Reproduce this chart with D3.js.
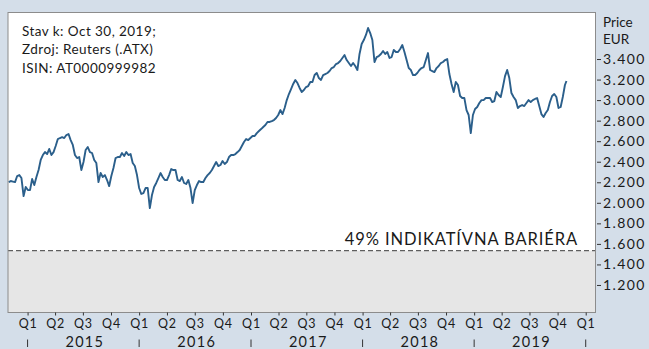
<!DOCTYPE html>
<html>
<head>
<meta charset="utf-8">
<script src="https://cdn.jsdelivr.net/npm/d3@7"></script>
<style>
  html, body { margin: 0; padding: 0; background: #d4dee9; }
  svg { display: block; }
  text { font-family: Lato, "DejaVu Sans", sans-serif; fill: #1a1a1a; }
</style>
</head>
<body>
<svg id="chart" width="649" height="349"></svg>
<script>
// ATX weekly closes (Friday), starting 2014-10-31, plus the as-of close
const weekStart = "2014-10-31";
const weeklyClose = [
  2202, 2212, 2207, 2202, 2261, 2270, 2241, 2066, 2154, 2124,
  2124, 2232, 2173, 2251, 2319, 2417, 2465, 2494, 2475, 2524,
  2465, 2494, 2553, 2621, 2631, 2640, 2631, 2660, 2670, 2611,
  2563, 2465, 2436, 2446, 2319, 2397, 2514, 2543, 2494, 2485,
  2417, 2387, 2202, 2290, 2251, 2270, 2222, 2163, 2261, 2339,
  2436, 2446, 2446, 2485, 2456, 2494, 2465, 2475, 2387, 2358,
  2270, 2144, 2086, 2095, 2144, 2144, 1949, 2076, 2154, 2193,
  2241, 2290, 2251, 2222, 2222, 2270, 2329, 2319, 2319, 2222,
  2212, 2251, 2193, 2183, 2222, 2144, 1998, 2124, 2173, 2212,
  2202, 2202, 2241, 2270, 2290, 2319, 2358, 2397, 2358, 2368,
  2407, 2378, 2397, 2446, 2465, 2465, 2475, 2494, 2514, 2553,
  2592, 2621, 2611, 2631, 2650, 2650, 2679, 2699, 2718, 2738,
  2757, 2787, 2787, 2796, 2806, 2826, 2855, 2903, 2864, 2923,
  3000, 3059, 3108, 3157, 3196, 3166, 3118, 3079, 3098, 3127,
  3137, 3176, 3176, 3244, 3264, 3215, 3196, 3244, 3254, 3264,
  3283, 3312, 3322, 3351, 3361, 3381, 3410, 3439, 3390, 3361,
  3332, 3361, 3332, 3293, 3449, 3546, 3585, 3634, 3702, 3653,
  3585, 3371, 3419, 3429, 3449, 3478, 3449, 3468, 3410, 3419,
  3488, 3468, 3468, 3497, 3536, 3468, 3390, 3312, 3293, 3244,
  3244, 3264, 3293, 3312, 3322, 3390, 3458, 3293, 3283, 3273,
  3312, 3332, 3361, 3371, 3390, 3400, 3254, 3157, 3079, 3176,
  3147, 3040, 3020, 3020, 2903, 2855, 2679, 2855, 2913, 2933,
  2972, 3000, 3000, 3020, 3020, 3020, 2981, 2991, 3079, 3049,
  3030, 3127, 3234, 3293, 3215, 3069, 3030, 3000, 2923, 2942,
  2952, 2942, 2972, 3000, 2981, 3000, 3011, 3020, 2942, 2864,
  2835, 2874, 2903, 2981, 3040, 3059, 3030, 2923, 2933, 3030,
  3147
];
const asOfDate = "2019-10-30";
const asOfClose = 3186;

const yTicks = [1200, 1400, 1600, 1800, 2000, 2200, 2400, 2600, 2800, 3000, 3200, 3400];
const years = [2015, 2016, 2017, 2018, 2019];
const infoLines = ["Stav k: Oct 30, 2019;", "Zdroj: Reuters (.ATX)", "ISIN: AT0000999982"];
const axisTitle = ["Price", "EUR"];
const referenceLevel = 3130;   // initial fixing of the underlying
const barrierPct = 49;         // barrier as % of the initial fixing
const barrierText = barrierPct + "% INDIKATÍVNA BARIÉRA";

const parse = d3.utcParse("%Y-%m-%d");
const start = parse(weekStart);
const series = weeklyClose.map((v, i) => ({ date: d3.utcDay.offset(start, 7 * i), value: v }));
series.push({ date: parse(asOfDate), value: asOfClose });
const barrier = referenceLevel * barrierPct / 100;

const locale = d3.formatLocale({ decimal: ",", thousands: ".", grouping: [3], currency: ["", " €"] });
const fmt = locale.format(",d");

const plot = { left: 8, right: 595.5, top: 12.5, bottom: 312.5 };
const x = d3.scaleUtc()
  .domain([parse("2014-10-29"), parse("2020-02-02")])
  .range([plot.left, plot.right]);
const y = d3.scaleLinear()
  .domain([932, 3853])
  .range([plot.bottom, plot.top]);

const svg = d3.select("#chart");

// plot area
svg.append("rect")
  .attr("x", plot.left).attr("y", plot.top)
  .attr("width", plot.right - plot.left).attr("height", plot.bottom - plot.top)
  .attr("fill", "#ffffff");

// zone below the barrier
svg.append("rect")
  .attr("x", plot.left).attr("y", y(barrier))
  .attr("width", plot.right - plot.left).attr("height", plot.bottom - y(barrier))
  .attr("fill", "#e6e6e6");

svg.append("line")
  .attr("x1", plot.left).attr("x2", plot.right)
  .attr("y1", y(barrier)).attr("y2", y(barrier))
  .attr("stroke", "#3a3a3a").attr("stroke-width", 1)
  .attr("stroke-dasharray", "5,3");

svg.append("text")
  .attr("x", 578).attr("y", y(barrier) - 6)
  .attr("text-anchor", "end")
  .attr("font-size", 16.5)
  .attr("letter-spacing", 0.9)
  .text(barrierText);

// price line
const line = d3.line().x(d => x(d.date)).y(d => y(d.value));
svg.append("path")
  .datum(series)
  .attr("fill", "none")
  .attr("stroke", "#2b5f8b")
  .attr("stroke-width", 1.9)
  .attr("stroke-linejoin", "round")
  .attr("d", line);

// frame
svg.append("rect")
  .attr("x", plot.left).attr("y", plot.top)
  .attr("width", plot.right - plot.left).attr("height", plot.bottom - plot.top)
  .attr("fill", "none").attr("stroke", "#8c8c8c").attr("stroke-width", 1);

// info block
svg.append("g").selectAll("text")
  .data(infoLines).join("text")
  .attr("x", 22)
  .attr("y", (d, i) => 36 + i * 18.3)
  .attr("font-size", 13.5)
  .attr("letter-spacing", 0.45)
  .text(d => d);

// y axis on the right
const yAxis = d3.axisRight(y).tickValues(yTicks).tickFormat(fmt).tickSize(4).tickPadding(2);
const gy = svg.append("g").attr("transform", `translate(${plot.right + 1.5},0)`).call(yAxis);
gy.select(".domain").remove();
gy.selectAll(".tick line").attr("stroke", "#333");
gy.selectAll(".tick text")
  .attr("font-family", "Lato, 'DejaVu Sans', sans-serif")
  .attr("font-size", 14)
  .attr("letter-spacing", 1.4)
  .attr("fill", "#1a1a1a");

svg.append("g").selectAll("text")
  .data(axisTitle).join("text")
  .attr("x", 603)
  .attr("y", (d, i) => 27 + i * 16.5)
  .attr("font-size", 13.5)
  .text(d => d);

// quarter axis
const quarters = d3.utcMonth.every(3).range(parse("2015-01-01"), parse("2020-01-02"));
const xAxis = d3.axisBottom(x).tickValues(quarters)
  .tickFormat(d => "Q" + (Math.floor(d.getUTCMonth() / 3) + 1))
  .tickSize(3).tickPadding(4);
const gx = svg.append("g").attr("transform", `translate(0,${plot.bottom})`).call(xAxis);
gx.select(".domain").remove();
gx.selectAll(".tick line").attr("stroke", "#333");
gx.selectAll(".tick text")
  .attr("font-family", "Lato, 'DejaVu Sans', sans-serif")
  .attr("font-size", 12.5)
  .attr("letter-spacing", 0.8)
  .attr("fill", "#1a1a1a");

// year separators and labels
const yearStarts = years.concat([years[years.length - 1] + 1]).map(yr => Date.UTC(yr, 0, 1));
svg.append("g").selectAll("line")
  .data(yearStarts).join("line")
  .attr("x1", d => x(d)).attr("x2", d => x(d))
  .attr("y1", 339.5).attr("y2", 347)
  .attr("stroke", "#333").attr("stroke-width", 1);

svg.append("g").selectAll("text")
  .data(years).join("text")
  .attr("x", yr => x(Date.UTC(yr, 6, 1)) + 2)
  .attr("y", 346.5)
  .attr("text-anchor", "middle")
  .attr("font-size", 14.5)
  .attr("letter-spacing", 1.3)
  .text(yr => yr);
</script>
</body>
</html>
